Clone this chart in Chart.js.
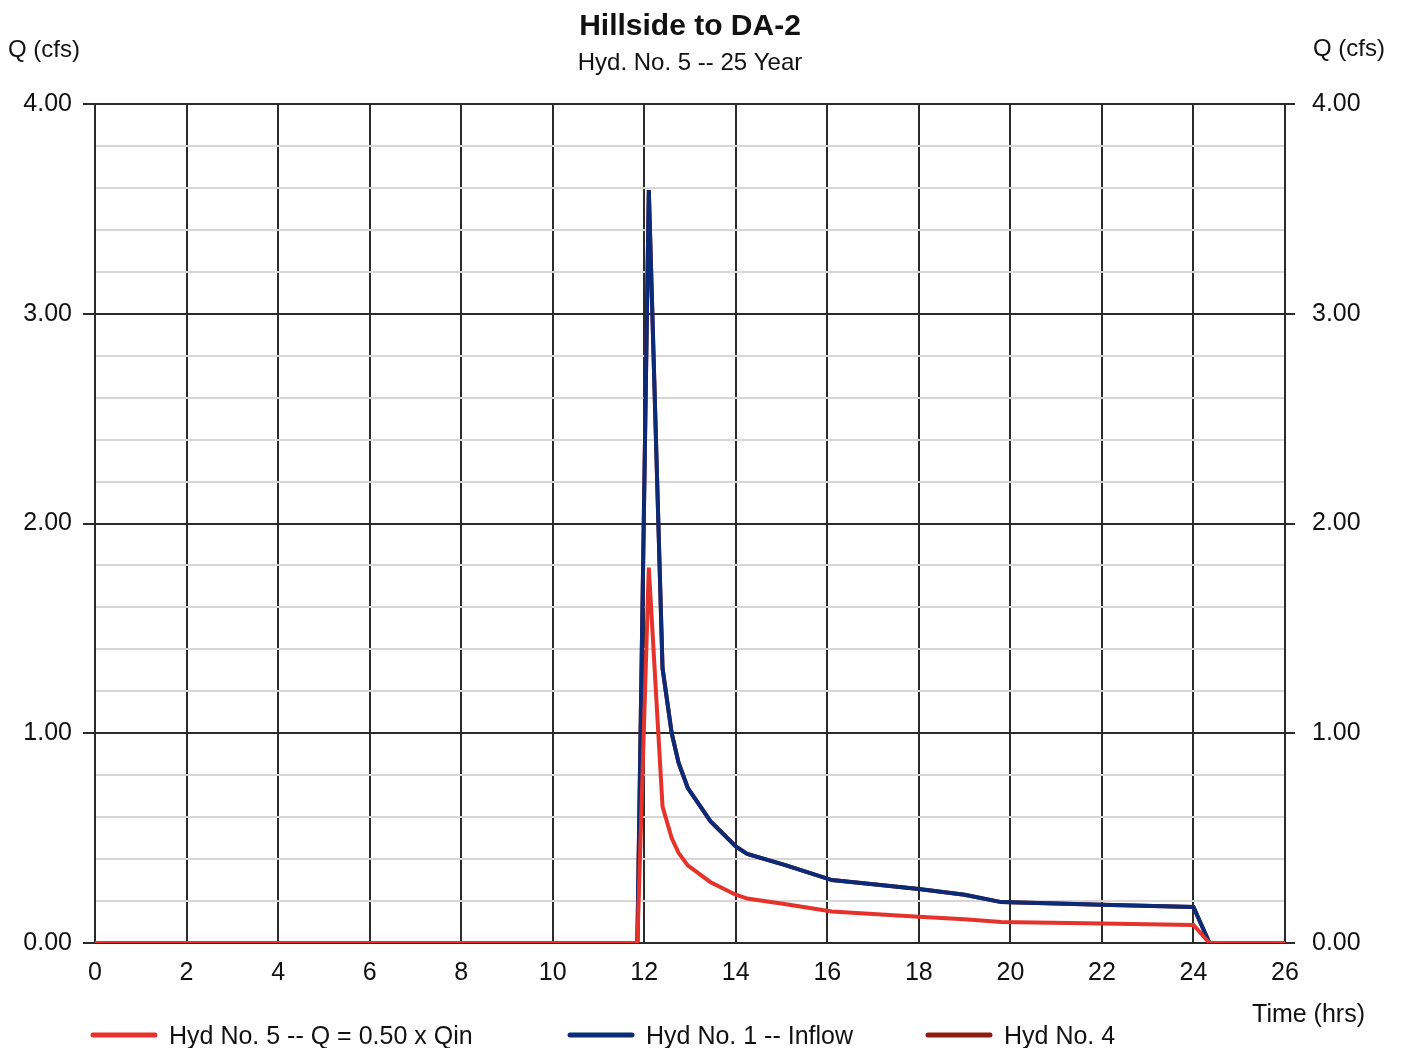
<!DOCTYPE html>
<html>
<head>
<meta charset="utf-8">
<script src="https://cdn.jsdelivr.net/npm/chart.js@4.4.0/dist/chart.umd.min.js"></script>
<style>
  html, body { margin: 0; padding: 0; background: #ffffff; }
  #wrap { position: relative; width: 1403px; height: 1048px; }
  canvas { display: block; }
</style>
</head>
<body>
<div id="wrap"><canvas id="c" width="1403" height="1048"></canvas></div>
<script>
// ---- Data ----
const chartTitle = "Hillside to DA-2";
const chartSubtitle = "Hyd. No. 5 -- 25 Year";
const yAxisLabel = "Q (cfs)";
const xAxisLabel = "Time (hrs)";
const seriesNames = ["Hyd No. 5 -- Q = 0.50 x Qin", "Hyd No. 1 -- Inflow", "Hyd No. 4"];
const seriesColors = ["#e5322b", "#0b2a78", "#8e1a12"];

const timeHrs = [0, 11.85, 12.1, 12.4, 12.6, 12.75, 12.95, 13.45, 14.0, 14.25, 15.1, 16.1, 17.0, 18.0, 19.0, 19.8, 22.0, 24.0, 24.35, 26];
const hyd5Outflow = [0, 0, 1.79, 0.65, 0.50, 0.43, 0.37, 0.29, 0.23, 0.212, 0.185, 0.15, 0.138, 0.125, 0.113, 0.10, 0.093, 0.086, 0, 0];
const hyd1Inflow  = [0, 0, 3.59, 1.31, 1.00, 0.86, 0.74, 0.58, 0.46, 0.425, 0.37, 0.30, 0.28, 0.257, 0.23, 0.195, 0.182, 0.172, 0, 0];
// Hyd No. 4 is hidden beneath the inflow line in the reference (only a purple tint shows at the 24 h drop)
const hyd4Flow    = [0, 0, 3.59, 1.31, 1.00, 0.86, 0.74, 0.58, 0.46, 0.425, 0.37, 0.30, 0.28, 0.257, 0.23, 0.195, 0.182, 0.172, 0, 0];

const xTickMin = 0, xTickMax = 26, xTickStep = 2;
const yTickMin = 0, yTickMax = 4, yMinorStep = 0.2;

// ---- Build chart ----
const FONT = '"Liberation Sans", Arial, Helvetica, sans-serif';
const toPts = (ys) => timeHrs.map((t, i) => ({ x: t, y: ys[i] }));
const isMajor = (v) => Math.abs(v - Math.round(v)) < 1e-6;

const textPlugin = {
  id: 'texts',
  afterDraw(chart) {
    const ctx = chart.ctx;
    ctx.save();
    ctx.fillStyle = '#111';
    ctx.textBaseline = 'alphabetic';
    ctx.font = 'bold 30px ' + FONT;
    ctx.textAlign = 'center';
    ctx.fillText(chartTitle, 690, 35);
    ctx.font = '24px ' + FONT;
    ctx.fillText(chartSubtitle, 690, 70);
    ctx.textAlign = 'left';
    ctx.fillText(yAxisLabel, 8, 57);
    ctx.fillText(yAxisLabel, 1313, 56);
    ctx.textAlign = 'right';
    ctx.font = '25px ' + FONT;
    ctx.fillText(xAxisLabel, 1365, 1022);
    // legend
    const legendX = [93, 570, 928];
    const legendY = 1035;
    ctx.textAlign = 'left';
    seriesNames.forEach((name, i) => {
      ctx.strokeStyle = seriesColors[i];
      ctx.lineWidth = 5;
      ctx.lineCap = 'round';
      ctx.beginPath();
      ctx.moveTo(legendX[i], legendY);
      ctx.lineTo(legendX[i] + 62, legendY);
      ctx.stroke();
      ctx.fillStyle = '#111';
      ctx.fillText(name, legendX[i] + 76, legendY + 9);
    });
    ctx.restore();
  }
};

const yTickCb = (v) => isMajor(v) ? Number(v).toFixed(2) : '';
const gridColor = (c) => isMajor(c.tick.value) ? '#2b2b2b' : '#d6d6d6';
const tickColor = (c) => isMajor(c.tick.value) ? '#2b2b2b' : 'rgba(0,0,0,0)';

new Chart(document.getElementById('c'), {
  type: 'line',
  data: {
    datasets: [
      { label: seriesNames[0], data: toPts(hyd5Outflow), borderColor: seriesColors[0], borderWidth: 4, pointRadius: 0, tension: 0, fill: false },
      { label: seriesNames[1], data: toPts(hyd1Inflow), borderColor: seriesColors[1], borderWidth: 4, pointRadius: 0, tension: 0, fill: false },
      { label: seriesNames[2], data: toPts(hyd4Flow), borderColor: seriesColors[2], borderWidth: 4, pointRadius: 0, tension: 0, fill: false }
    ]
  },
  options: {
    responsive: false,
    animation: false,
    layout: { padding: { top: 104, left: 0, right: 0, bottom: 0 } },
    plugins: { legend: { display: false }, tooltip: { enabled: false }, title: { display: false } },
    scales: {
      x: {
        type: 'linear', min: xTickMin, max: xTickMax,
        ticks: { stepSize: xTickStep, color: '#111', font: { family: FONT, size: 25 }, padding: 15, maxRotation: 0 },
        grid: { color: '#2b2b2b', lineWidth: 2, drawTicks: false },
        border: { display: true, color: '#2b2b2b', width: 2 },
        afterFit(s) { s.height = 105; }
      },
      y: {
        type: 'linear', position: 'left', min: yTickMin, max: yTickMax,
        ticks: { stepSize: yMinorStep, callback: yTickCb, color: '#111', font: { family: FONT, size: 25 }, padding: 11, autoSkip: false },
        grid: { color: gridColor, lineWidth: 2, tickLength: 12, tickColor: tickColor, tickWidth: 2 },
        border: { display: true, color: '#2b2b2b', width: 2 },
        afterFit(s) { s.width = 95; }
      },
      y2: {
        type: 'linear', position: 'right', min: yTickMin, max: yTickMax,
        ticks: { stepSize: yMinorStep, callback: yTickCb, color: '#111', font: { family: FONT, size: 25 }, padding: 17, autoSkip: false },
        grid: { drawOnChartArea: false, color: gridColor, lineWidth: 2, tickLength: 10, tickColor: tickColor, tickWidth: 2 },
        border: { display: true, color: '#2b2b2b', width: 2 },
        afterFit(s) { s.width = 118; }
      }
    }
  },
  plugins: [textPlugin]
});
</script>
</body>
</html>
